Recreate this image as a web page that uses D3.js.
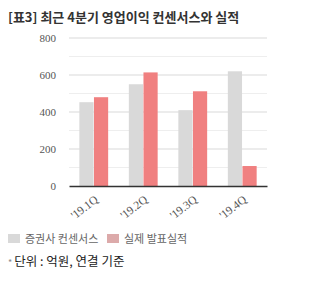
<!DOCTYPE html>
<html>
<head>
<meta charset="utf-8">
<script src="https://cdn.jsdelivr.net/npm/d3@7"></script>
<style>
  body { margin: 0; background: #fff; }
</style>
</head>
<body>
<div id="chart"></div>
<script>
// dados do grafico
var quarters = ["'19.1Q", "'19.2Q", "'19.3Q", "'19.4Q"];
var seriesNames = ["증권사 컨센서스", "실제 발표실적"];
var consensus = [453, 550, 410, 620];
var actual = [480, 614, 512, 108];
var yTicks = [0, 200, 400, 600, 800];
var yMinor = [100, 300, 500, 700];

var W = 325, H = 287;
var margin = {left: 69, right: 58, top: 38, bottom: 101};
var w = W - margin.left - margin.right;
var h = H - margin.top - margin.bottom;

var svg = d3.select('#chart').append('svg')
  .attr('width', W)
  .attr('height', H);

svg.append('text')
  .attr('x', 8).attr('y', 22)
  .attr('font-family', '"Noto Sans CJK KR", sans-serif')
  .attr('font-size', 13).attr('font-weight', 'bold')
  .attr('fill', '#333')
  .text('[표3] 최근 4분기 영업이익 컨센서스와 실적');

var g = svg.append('g')
  .attr('transform', 'translate(' + margin.left + ',' + margin.top + ')');

/*
 * escalas
 */
var x0 = d3.scaleBand().domain(quarters).range([0, w])
  .paddingInner(0.4).paddingOuter(0.2);
var x1 = d3.scaleBand().domain([0, 1]).range([0, x0.bandwidth()]).padding(0.03);
var y = d3.scaleLinear().domain([0, 800]).range([h, 0]);

// linhas de grade
g.selectAll('line.minor').data(yMinor).enter().append('line')
  .attr('x1', 0).attr('x2', w)
  .attr('y1', d => y(d)).attr('y2', d => y(d))
  .attr('stroke', '#eeeeee').attr('stroke-width', 1);
g.selectAll('line.major').data(yTicks.slice(1)).enter().append('line')
  .attr('x1', 0).attr('x2', w)
  .attr('y1', d => y(d)).attr('y2', d => y(d))
  .attr('stroke', '#d9d9d9').attr('stroke-width', 1);

/*
 * barras
 */
var colors = ['#d9d9d9', '#f08080'];
var rows = quarters.map((q, i) => ({q: q, vals: [consensus[i], actual[i]]}));

var grp = g.selectAll('g.q').data(rows).enter().append('g')
  .attr('transform', d => 'translate(' + x0(d.q) + ',0)');
grp.selectAll('rect').data(d => d.vals).enter().append('rect')
  .attr('x', (d, i) => x1(i))
  .attr('width', x1.bandwidth())
  .attr('y', d => y(d))
  .attr('height', d => h - y(d))
  .attr('fill', (d, i) => colors[i]);

/*
 * eixos
 */
var yAxis = g.append('g')
  .call(d3.axisLeft(y).tickValues(yTicks).tickSize(0).tickPadding(13));
yAxis.select('.domain').remove();
yAxis.selectAll('text')
  .attr('font-family', '"Liberation Serif", serif')
  .attr('font-size', 11).attr('fill', '#555');

var xAxis = g.append('g')
  .attr('transform', 'translate(0,' + h + ')')
  .call(d3.axisBottom(x0).tickSize(0).tickPadding(0));
xAxis.select('.domain').attr('stroke', '#333').attr('stroke-width', 1.5);
xAxis.selectAll('text')
  .attr('font-family', '"Liberation Serif", serif')
  .attr('font-size', 11.5).attr('fill', '#555')
  .attr('text-anchor', 'end')
  .attr('dy', 0)
  .attr('transform', 'translate(5,15) rotate(-38)');

/*
 * legenda
 */
var legColors = ['#d9d9d9', '#dcaaaa'];
var legX = [8, 107];
var leg = svg.selectAll('g.leg').data(seriesNames).enter().append('g')
  .attr('transform', (d, i) => 'translate(' + legX[i] + ',234)');
leg.append('rect').attr('width', 12).attr('height', 9)
  .attr('fill', (d, i) => legColors[i]);
leg.append('text').attr('x', 17).attr('y', 9)
  .attr('font-family', '"Noto Sans CJK KR", sans-serif')
  .attr('font-size', 11).attr('fill', '#666')
  .text(d => d);

var note = svg.append('text').attr('x', 8).attr('y', 266)
  .attr('font-family', '"Noto Sans CJK KR", sans-serif')
  .attr('font-size', 12.5).attr('fill', '#222');
note.append('tspan').attr('fill', '#888').attr('font-size', 9).text('* ');
note.append('tspan').text('단위 : 억원, 연결 기준');
</script>
</body>
</html>
